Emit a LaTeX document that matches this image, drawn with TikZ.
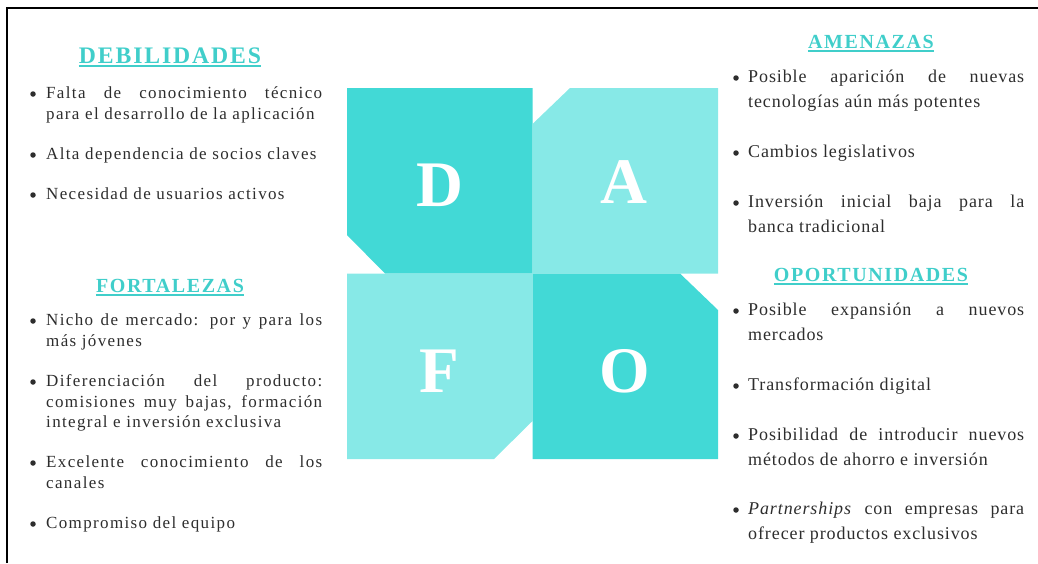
\documentclass[tikz,border=0pt]{standalone}
\usepackage{fontspec}
\setmainfont{Liberation Serif}
\newfontfamily\lbody[LetterSpace=8]{Liberation Serif}
\newfontfamily\rbody[LetterSpace=5]{Liberation Serif}
\newfontfamily\headf[LetterSpace=8]{Liberation Serif}
\definecolor{tdark}{RGB}{66,217,214}
\definecolor{tlight}{RGB}{135,233,231}
\definecolor{thead}{RGB}{64,206,202}
\definecolor{txt}{RGB}{45,45,45}
\tikzset{
  lt/.style={inner sep=0pt, text=txt, font=\lbody\fontsize{17}{20}\selectfont, anchor=base west},
  rt/.style={inner sep=0pt, text=txt, font=\rbody\fontsize{18}{21}\selectfont, anchor=base west},
  bul/.style={circle, fill=txt, inner sep=0pt, minimum size=5.5pt},
  hd/.style={inner sep=0pt, text=thead, anchor=base},
  uline/.style={draw=thead, line width=1.3pt},
  big/.style={inner sep=0pt, text=white, font=\bfseries\fontsize{65}{70}\selectfont, anchor=base},
}
\newcommand{\jl}[1]{\makebox[276pt][s]{#1}}
\begin{document}
\begin{tikzpicture}[x=1pt,y=-1pt]
\useasboundingbox (0,0) rectangle (1038,563);
% frame
\draw[line width=2.5pt, black] (7,563) -- (7,8) -- (1038,8);
% DAFO squares
\fill[tdark] (347,88) -- (532.5,88) -- (532.5,273.5) -- (385,273.5) -- (347,235) -- cycle;
\fill[tlight] (570,88) -- (718,88) -- (718,273.5) -- (532.5,273.5) -- (532.5,124) -- cycle;
\fill[tlight] (347,273.5) -- (532.5,273.5) -- (532.5,421) -- (494,459) -- (347,459) -- cycle;
\fill[tdark] (532.5,273.5) -- (680,273.5) -- (718,310) -- (718,459) -- (532.5,459) -- cycle;
\node[big] (D) at (440,206) {D};
\node[big] (A) at (624,203) {A};
\node[big] (F) at (439,392) {F};
\node[big] (O) at (625,392) {O};
% headers
\node[hd, font=\headf\bfseries\fontsize{23.7}{26}\selectfont] (hdeb) at (170,63) {DEBILIDADES};
\draw[uline] ([yshift=-3pt]hdeb.base west) -- ([yshift=-3pt]hdeb.base east);
\node[hd, font=\headf\bfseries\fontsize{20}{24}\selectfont] (hfor) at (170,292) {FORTALEZAS};
\draw[uline] ([yshift=-3pt]hfor.base west) -- ([yshift=-3pt]hfor.base east);
\node[hd, font=\headf\bfseries\fontsize{20}{24}\selectfont] (hame) at (871,48) {AMENAZAS};
\draw[uline] ([yshift=-3pt]hame.base west) -- ([yshift=-3pt]hame.base east);
\node[hd, font=\headf\bfseries\fontsize{20}{24}\selectfont] (hopo) at (871,281) {OPORTUNIDADES};
\draw[uline] ([yshift=-3pt]hopo.base west) -- ([yshift=-3pt]hopo.base east);
% Debilidades
\node[bul] (bd1) at (33,94) {};
\node[lt] (d1a) at (46,98) {\jl{Falta de conocimiento técnico}};
\node[lt] (d1b) at (46,119) {para el desarrollo de la aplicación};
\node[bul] (bd2) at (33,155) {};
\node[lt] (d2) at (46,159) {Alta dependencia de socios claves};
\node[bul] (bd3) at (33,195) {};
\node[lt] (d3) at (46,199) {Necesidad de usuarios activos};
% Fortalezas
\node[bul] (bf1) at (33,321) {};
\node[lt] (f1a) at (46,325) {\jl{Nicho de mercado: por y para los}};
\node[lt] (f1b) at (46,346) {más jóvenes};
\node[bul] (bf2) at (33,382) {};
\node[lt] (f2a) at (46,386) {\jl{Diferenciación del producto:}};
\node[lt] (f2b) at (46,407) {\jl{comisiones muy bajas, formación}};
\node[lt] (f2c) at (46,427) {integral e inversión exclusiva};
\node[bul] (bf3) at (33,463) {};
\node[lt] (f3a) at (46,467) {\jl{Excelente conocimiento de los}};
\node[lt] (f3b) at (46,488) {canales};
\node[bul] (bf4) at (33,524) {};
\node[lt] (f4) at (46,528) {Compromiso del equipo};
% Amenazas
\node[bul] (ba1) at (736,78) {};
\node[rt] (a1a) at (748,82) {\jl{Posible aparición de nuevas}};
\node[rt] (a1b) at (748,107) {tecnologías aún más potentes};
\node[bul] (ba2) at (736,153) {};
\node[rt] (a2) at (748,157) {Cambios legislativos};
\node[bul] (ba3) at (736,203) {};
\node[rt] (a3a) at (748,207) {\jl{Inversión inicial baja para la}};
\node[rt] (a3b) at (748,232) {banca tradicional};
% Oportunidades
\node[bul] (bo1) at (736,311) {};
\node[rt] (o1a) at (748,315) {\jl{Posible expansión a nuevos}};
\node[rt] (o1b) at (748,340) {mercados};
\node[bul] (bo2) at (736,386) {};
\node[rt] (o2) at (748,390) {Transformación digital};
\node[bul] (bo3) at (736,436) {};
\node[rt] (o3a) at (748,440) {\jl{Posibilidad de introducir nuevos}};
\node[rt] (o3b) at (748,465) {métodos de ahorro e inversión};
\node[bul] (bo4) at (736,510) {};
\node[rt] (o4a) at (748,514) {\jl{\textit{Partnerships} con empresas para}};
\node[rt] (o4b) at (748,539) {ofrecer productos exclusivos};
\end{tikzpicture}
\end{document}
